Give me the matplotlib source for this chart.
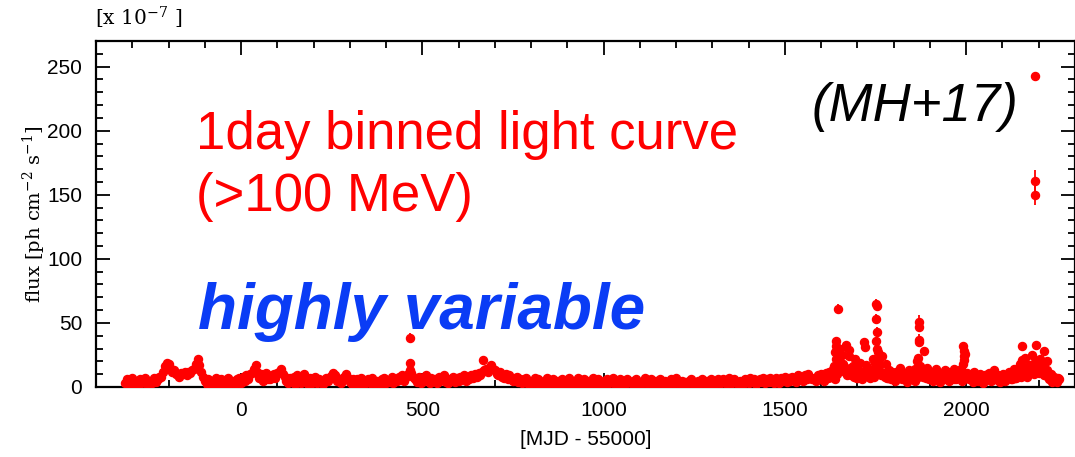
import numpy as np
import matplotlib
matplotlib.use("Agg")
import matplotlib.pyplot as plt
from matplotlib.ticker import MultipleLocator

# ---- data -----------------------------------------------------------------
# daily flux (units of 1e-7 ph cm^-2 s^-1), sampled every 5 days
BASE_START = -320
BASE_STEP = 5
base_flux = [
    3, 6, 2, 4, 7, 2, 5, 1, 6, 3, 4, 7, 2, 5, 4, 3, 7, 4, 6, 8,          # -320
    8, 12, 16, 19, 18, 15, 12, 13, 10, 9, 8, 11, 10, 12, 9, 12, 11, 13, 14, 18,  # -220
    22, 17, 12, 8, 5, 2, 6, 1, 5, 3, 7, 2, 4, 6, 1, 5, 3, 7, 2, 5,       # -120
    4, 2, 6, 7, 3, 8, 5, 9, 6, 10, 11, 14, 17, 12, 7, 10, 5, 8, 11, 6,   # -20
    6, 9, 10, 7, 11, 12, 14, 10, 8, 5, 3, 7, 4, 8, 2, 9, 5, 3, 7, 10,    # 80
    4, 2, 7, 3, 6, 8, 3, 6, 5, 2, 4, 7, 5, 8, 9, 11, 9, 5, 6, 3,         # 180
    7, 8, 10, 7, 4, 2, 6, 3, 6, 1, 7, 5, 2, 4, 6, 3, 7, 4, 2, 5,         # 280
    4, 2, 6, 7, 3, 5, 4, 8, 3, 6, 5, 8, 6, 9, 5, 8, 10, 13, 11, 8,       # 380
    6, 4, 8, 3, 7, 5, 9, 6, 3, 7, 5, 6, 3, 8, 5, 7, 9, 4, 3, 6,          # 480
    5, 8, 4, 7, 5, 8, 6, 9, 5, 8, 6, 9, 7, 10, 8, 11, 9, 12, 13, 14,     # 580
    12, 15, 17, 14, 13, 10, 9, 12, 8, 7, 10, 6, 9, 7, 5, 7, 8, 4, 6, 3,  # 680
    6, 7, 3, 5, 2, 4, 7, 2, 6, 4, 1, 5, 3, 7, 2, 4, 6, 2, 4, 5,          # 780
    2, 6, 1, 5, 3, 7, 2, 5, 1, 4, 7, 3, 2, 6, 4, 1, 5, 3, 7, 2,          # 880
    3, 6, 4, 1, 5, 2, 6, 3, 4, 7, 2, 4, 1, 6, 3, 5, 2, 6, 4, 3,          # 980
    5, 2, 6, 1, 4, 3, 5, 7, 2, 4, 6, 3, 1, 5, 3, 6, 4, 2, 5, 1,          # 1080
    3, 6, 4, 2, 7, 4, 2, 5, 1, 4, 3, 5, 6, 2, 4, 1, 5, 3, 6, 4,          # 1180
    2, 5, 1, 6, 3, 4, 2, 6, 4, 3, 6, 4, 2, 7, 4, 3, 6, 4, 2, 5,          # 1280
    4, 2, 6, 4, 3, 7, 4, 6, 2, 5, 6, 4, 7, 3, 6, 4, 7, 5, 3, 7,          # 1380
    5, 3, 7, 5, 8, 4, 7, 5, 8, 6, 4, 9, 6, 8, 5, 9, 6, 10, 7, 6,         # 1480
    7, 5, 9, 7, 10, 6, 9, 7, 11, 8, 12, 16, 22, 28, 20, 14, 18, 12, 9, 13,  # 1580
    15, 10, 8, 11, 7, 9, 12, 8, 10, 14, 9, 7, 11, 8, 10, 12, 16, 9, 11, 8,  # 1680
    10, 7, 9, 12, 8, 6, 9, 7, 10, 8, 6, 9, 11, 7, 8, 10, 14, 20, 12, 9,  # 1780
    8, 10, 7, 9, 6, 11, 8, 7, 9, 5, 8, 6, 10, 7, 12, 9, 7, 6, 8, 10,     # 1880
    9, 14, 18, 11, 8, 7, 9, 6, 8, 5, 7, 9, 6, 8, 5, 7, 10, 6, 8, 7,      # 1980
    6, 8, 5, 7, 9, 6, 8, 7, 10, 6, 9, 7, 12, 10, 8, 14, 11, 9, 13, 16,   # 2080
    12, 18, 15, 20, 11, 14, 16, 9, 12, 8, 6, 9, 5, 7, 4, 6,              # 2180
]

# extra daily points in the active period, offset by half a step
ACTIVE_START = 1602.5
active_flux = [
    9, 5, 11, 7, 12, 8, 14, 6, 10, 13, 18, 25, 15, 33, 11, 24, 9, 16, 22, 7,   # 1602.5
    13, 19, 6, 12, 17, 9, 14, 8, 22, 11, 16, 27, 12, 24, 9, 18, 7, 13, 6, 10,  # 1702.5
    5, 12, 8, 15, 6, 11, 9, 4, 13, 7, 10, 5, 12, 8, 16, 9, 28, 11, 15, 6,      # 1802.5
    12, 5, 9, 14, 7, 4, 11, 6, 13, 8, 5, 10, 7, 14, 6, 9, 12, 5, 21, 26,       # 1902.5
    11, 6, 9, 4, 12, 7, 5, 10, 8, 3, 9, 6, 11, 5, 8, 13, 6, 9, 4, 7,           # 2002.5
    10, 5, 8, 12, 6, 9, 14, 7, 11, 18, 9, 15, 23, 8, 17, 12, 25, 10, 19, 13,   # 2102.5
    22, 14, 17, 9, 13, 6, 10, 4, 8, 5, 7,                                      # 2202.5
]

# bright daily points with their uncertainties
flare_day = [466, 466, 668,
             1638, 1640, 1642, 1647, 1652, 1655, 1677, 1719, 1720,
             1749, 1751, 1752, 1752, 1753, 1754, 1755, 1757,
             1868, 1869, 1870, 1870, 1871,
             1992, 1993, 1995,
             2155, 2155, 2189, 2189, 2190, 2192, 2215, 2224]
flare_flux = [38, 19, 21,
              27, 36, 32, 61, 30, 25, 29, 35, 31,
              19, 36, 65, 53, 63, 43, 30, 20,
              23, 35, 51, 47, 37,
              32, 28, 24,
              32, 21, 161, 150, 243, 33, 28, 20]
flare_err = [4, 2, 3,
             3, 3, 3, 4, 3, 3, 3, 3, 3,
             2, 3, 4, 4, 4, 4, 3, 2,
             3, 4, 5, 4, 4,
             3, 3, 3,
             3, 3, 8, 8, 3, 3, 3, 3]

x_ticks = [0, 500, 1000, 1500, 2000]
y_ticks = [0, 50, 100, 150, 200, 250]

# ---- figure ---------------------------------------------------------------
plt.rcParams["font.family"] = ["Liberation Sans", "DejaVu Sans"]
plt.rcParams["mathtext.fontset"] = "dejavuserif"

fig = plt.figure(figsize=(10.75, 4.57), dpi=100)
ax = fig.add_axes([96 / 1075, 1 - 387 / 457, 979 / 1075, 346 / 457])

base_day = BASE_START + BASE_STEP * np.arange(len(base_flux))
active_day = ACTIVE_START + BASE_STEP * np.arange(len(active_flux))
ax.plot(base_day, base_flux, "o", color="red", ms=5.8, mec="red", zorder=3)
ax.plot(active_day, active_flux, "o", color="red", ms=5.8, mec="red", zorder=3)
ax.errorbar(flare_day, flare_flux, yerr=flare_err, fmt="o", color="red",
            ms=5.8, elinewidth=1.3, capsize=0, zorder=4)

ax.set_xlim(-400, 2300)
ax.set_ylim(0, 270)
ax.set_xticks(x_ticks)
ax.set_yticks(y_ticks)
ax.xaxis.set_minor_locator(MultipleLocator(100))
ax.yaxis.set_minor_locator(MultipleLocator(10))
ax.tick_params(which="both", direction="in", top=True, right=True,
               labelsize=15, width=1.3, pad=10)
ax.tick_params(which="major", length=10)
ax.tick_params(which="minor", length=5)
for sp in ax.spines.values():
    sp.set_linewidth(1.6)

ax.set_xlabel("[MJD - 55000]", fontsize=15, va="center")
ax.xaxis.set_label_coords(0.5, -0.153)
ax.set_ylabel(r"flux [ph cm$^{-2}$ s$^{-1}$]", fontsize=14,
              family="DejaVu Serif", va="center")
ax.yaxis.set_label_coords(-0.063, 0.5)

fig.text(95 / 1075, 1 - 18 / 457, r"[x 10$^{-7}$ ]", fontsize=14.5,
         family="DejaVu Serif", va="center", ha="left")

ax.text(0.102, 0.688, "1day binned light curve", transform=ax.transAxes,
        color="red", fontsize=38, va="baseline", ha="left")
ax.text(0.102, 0.509, "(>100 MeV)", transform=ax.transAxes,
        color="red", fontsize=38, va="baseline", ha="left")
ax.text(0.104, 0.168, "highly variable", transform=ax.transAxes,
        color="#0a3cf5", fontsize=46, fontweight="bold", fontstyle="italic",
        va="baseline", ha="left")
ax.text(0.731, 0.769, "(MH+17)", transform=ax.transAxes, color="black",
        fontsize=38, fontstyle="italic", va="baseline", ha="left")

fig.savefig("out.png", dpi=100)
